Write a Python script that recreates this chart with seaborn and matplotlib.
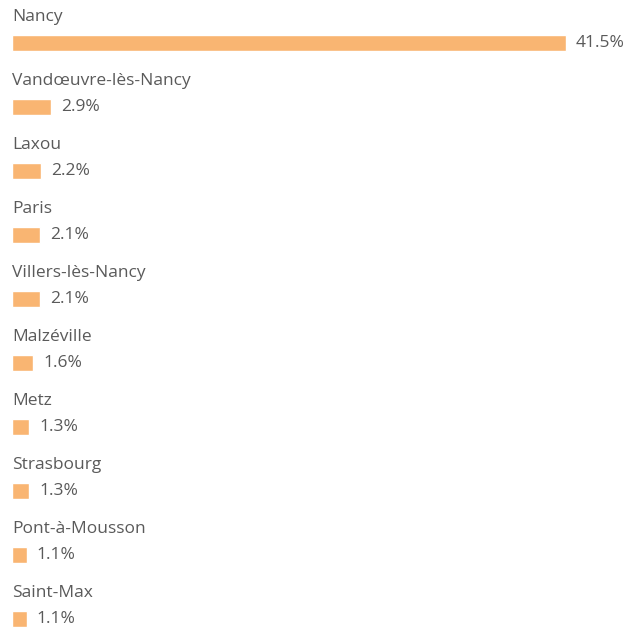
import pandas as pd
import seaborn as sns
import matplotlib.pyplot as plt

# données
villes = ['Nancy', 'Vandœuvre-lès-Nancy', 'Laxou', 'Paris', 'Villers-lès-Nancy',
          'Malzéville', 'Metz', 'Strasbourg', 'Pont-à-Mousson', 'Saint-Max']
parts = [41.5, 2.9, 2.2, 2.1, 2.1, 1.6, 1.3, 1.3, 1.1, 1.1]

df = pd.DataFrame({'ville': villes, 'part': parts})

sns.set_theme(style='white')
plt.rcParams['font.family'] = ['Open Sans', 'DejaVu Sans']

fig = plt.figure(figsize=(6.39, 6.29), dpi=100)
ax = fig.add_axes([0, 0, 1, 1])

sns.barplot(data=df, x='part', y='ville', orient='h', color='#F9B572',
            saturation=1, width=0.24, ax=ax)

px = 554 / 41.5
ax.set_xlim(-12 / px, (639 - 12) / px)
ax.set_ylim(9 + 10 / 64, -43 / 64)

for i, (v, p) in enumerate(zip(villes, parts)):
    ax.text(0, i - 0.40, v, ha='left', va='center', fontsize=12.5, color='#5a5a5a')
    ax.text(p + 10 / px, i, f'{p:.1f}%', ha='left', va='center', fontsize=12.5, color='#5a5a5a')

ax.axis('off')
fig.savefig('out.png', dpi=100)
